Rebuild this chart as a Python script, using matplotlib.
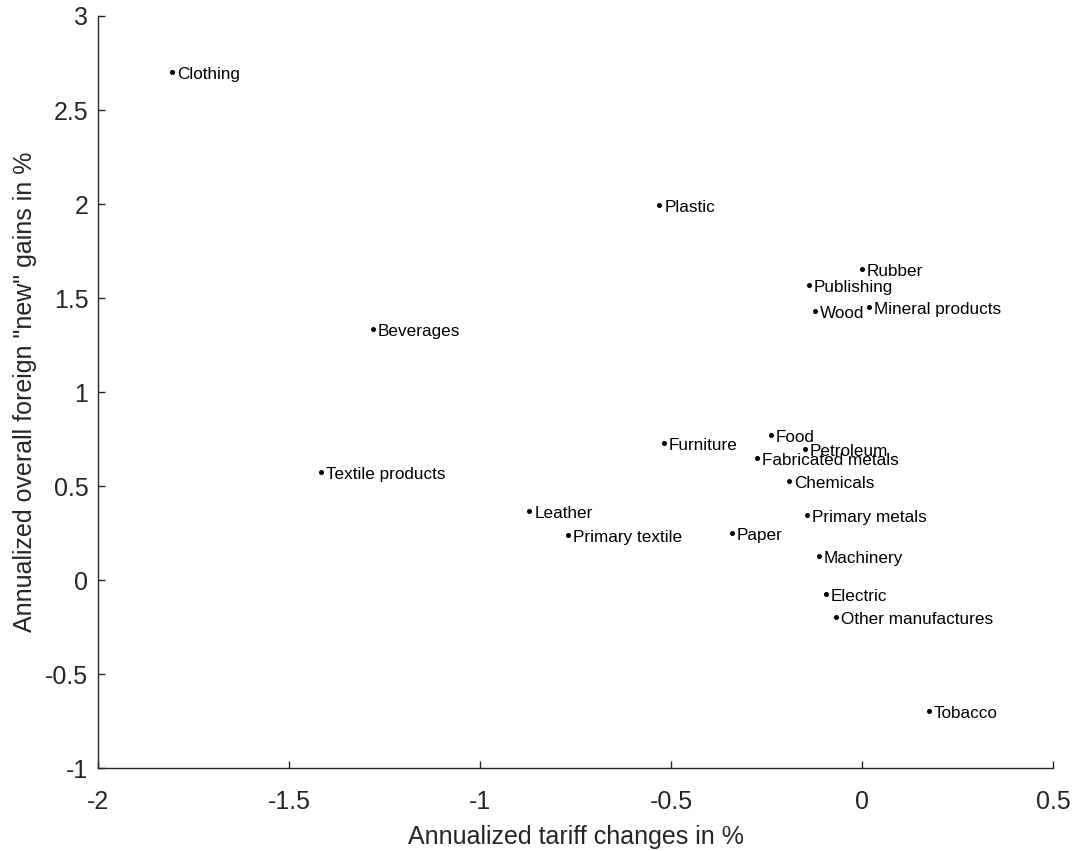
import matplotlib
matplotlib.use("Agg")
import matplotlib.pyplot as plt

industries = ["Clothing", "Plastic", "Rubber", "Publishing", "Wood", "Mineral products",
              "Beverages", "Textile products", "Leather", "Primary textile", "Furniture",
              "Food", "Petroleum", "Fabricated metals", "Chemicals", "Primary metals",
              "Paper", "Machinery", "Electric", "Other manufactures", "Tobacco"]
tariff_change = [-1.805, -0.531, -0.001, -0.139, -0.123, 0.0175,
                 -1.281, -1.417, -0.871, -0.770, -0.518,
                 -0.239, -0.150, -0.276, -0.190, -0.145,
                 -0.340, -0.113, -0.094, -0.069, 0.175]
foreign_gains = [2.704, 1.993, 1.653, 1.568, 1.431, 1.454,
                 1.333, 0.573, 0.369, 0.238, 0.730,
                 0.771, 0.695, 0.651, 0.527, 0.346,
                 0.248, 0.129, -0.076, -0.198, -0.697]
xticks = [-2, -1.5, -1, -0.5, 0, 0.5]
yticks = [-1, -0.5, 0, 0.5, 1, 1.5, 2, 2.5, 3]

plt.rcParams['font.family'] = ['Liberation Sans', 'DejaVu Sans']

fig = plt.figure(figsize=(10.78, 8.51), dpi=100)
ax = fig.add_axes([0.0909, 0.0975, 0.8859, 0.8837])

ax.plot(tariff_change, foreign_gains, linestyle='none', marker='o',
        markersize=2.6, color='black')
for name, x, y in zip(industries, tariff_change, foreign_gains):
    ax.annotate(name, (x, y), xytext=(5, -1), textcoords='offset pixels',
                ha='left', va='center_baseline', fontsize=12.3, color='black')

ax.set_xlim(-2, 0.5)
ax.set_ylim(-1, 3)
ax.set_xticks(xticks)
ax.set_xticklabels([f"{t:g}".replace('-', '-') for t in xticks])
ax.set_yticks(yticks)
ax.set_yticklabels([f"{t:g}" for t in yticks])

for s in ['top', 'right']:
    ax.spines[s].set_visible(False)
for s in ['left', 'bottom']:
    ax.spines[s].set_linewidth(1.0)
    ax.spines[s].set_color('#262626')

ax.tick_params(axis='both', direction='in', length=5, width=1.0, colors='#262626',
               labelsize=18, labelcolor='#262626')
ax.tick_params(axis='x', pad=16)
ax.tick_params(axis='y', pad=7)

ax.set_xlabel("Annualized tariff changes in %", fontsize=18, labelpad=8, color='#262626')
ax.set_ylabel('Annualized overall foreign "new" gains in %', fontsize=18, labelpad=6,
              color='#262626')

fig.savefig("out.png", dpi=100)
